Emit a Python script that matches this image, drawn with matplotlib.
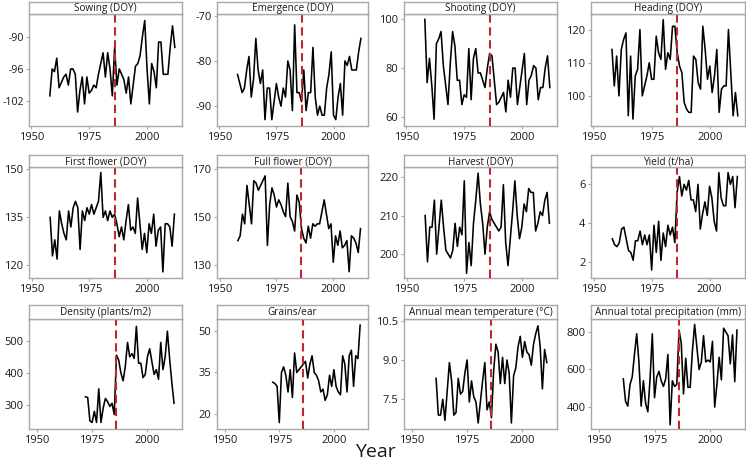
import matplotlib
matplotlib.use("Agg")
import matplotlib.pyplot as plt
import numpy as np

plt.rcParams['font.family'] = ['Open Sans', 'DejaVu Sans']
plt.rcParams['axes.unicode_minus'] = False

# ---------------- data ----------------
years_main = list(range(1958, 2013))      # 55 years
years_comp = list(range(1972, 2013))      # 41 years (density, grains)
years_temp = list(range(1961, 2012))      # 51 years
years_prec = list(range(1961, 2013))      # 52 years

sowing = [-101, -96, -96.5, -94, -99.5, -98.5, -97.5, -97, -99, -96, -96, -97,
          -104, -100, -97.5, -102.5, -97.5, -100.5, -100, -99, -99.5, -97,
          -95, -93, -97.5, -93, -96, -101, -92, -99, -96, -97,
          -98, -100.5, -97.5, -102.5, -99, -95.5, -95, -93.5, -90, -87,
          -96, -102.5, -95, -96.5, -99.5, -91, -91, -97, -97, -97,
          -92, -88, -92]

emergence = [-83, -85, -87, -86, -82, -79, -88, -84, -75, -82, -85, -82,
             -93, -86, -86, -93, -89, -85, -88, -90, -86, -88,
             -80, -82, -91, -72, -87, -87, -89, -82, -91, -87,
             -87, -77, -88, -92, -90, -92, -92, -86, -83, -78,
             -92, -93, -88, -85, -92, -80, -81, -79, -82, -82,
             -82, -78, -75]

shooting = [100, 74, 84, 73, 59, 90, 92, 95, 81, 73, 65, 82,
            95, 89, 75, 75, 65, 69, 68, 88, 67, 84,
            88, 78, 78, 75, 72, 80, 86, 85, 75, 65,
            66, 68, 70, 62, 75, 68, 80, 80, 65, 72,
            79, 86, 65, 75, 77, 81, 80, 67, 72, 72,
            80, 85, 72]

heading = [114, 103, 112, 100, 114, 117, 119, 94, 112, 93, 106, 108,
           120, 100, 103, 106, 110, 105, 105, 118, 113, 111,
           123, 108, 113, 111, 121, 121, 113, 109, 107, 98,
           96, 95, 95, 112, 111, 104, 102, 121, 114, 105,
           109, 101, 106, 114, 95, 102, 103, 103, 120, 107,
           94, 101, 94]

first_flower = [135, 123, 128, 122, 137, 133, 130, 128, 137, 132, 138, 140,
                138, 125, 137, 134, 138, 136, 139, 136, 138, 140,
                149, 135, 137, 134, 137, 135, 136, 133, 129, 132,
                128, 134, 139, 131, 132, 130, 141, 133, 125, 130,
                124, 133, 130, 136, 126, 131, 132, 118, 133, 133,
                132, 126, 136]

full_flower = [140, 142, 151, 147, 163, 155, 147, 165, 164, 161, 163, 165,
               167, 138, 155, 162, 159, 154, 157, 155, 152, 150,
               164, 150, 148, 144, 159, 156, 145, 141, 139, 146,
               141, 147, 146, 147, 147, 152, 157, 151, 145, 147,
               131, 142, 138, 144, 137, 138, 140, 127, 142, 141,
               139, 135, 145]

harvest = [210, 198, 207, 207, 214, 200, 207, 214, 207, 201, 200, 199,
           201, 208, 202, 207, 205, 219, 195, 203, 197, 208,
           214, 221, 213, 208, 200, 207, 211, 209, 208, 207,
           206, 207, 218, 203, 197, 204, 211, 219, 210, 204,
           207, 213, 211, 217, 216, 216, 206, 208, 211, 210,
           214, 216, 208]

yield_tha = [3.2, 2.9, 2.8, 3.0, 3.7, 3.8, 3.2, 2.6, 2.5, 2.1, 3.1, 3.1,
             3.6, 2.9, 3.4, 2.9, 3.4, 1.6, 3.9, 2.5, 4.1, 2.1,
             3.5, 2.8, 3.9, 3.4, 3.8, 3.0, 5.6, 6.4, 5.4, 6.0,
             5.7, 6.2, 5.2, 5.2, 4.6, 6.0, 3.7, 4.5, 5.1, 4.4,
             5.9, 5.3, 4.1, 3.6, 6.6, 5.3, 4.9, 4.9, 6.6, 6.0,
             6.4, 4.8, 6.4]

density = [325, 323, 250, 245, 280, 245, 350, 245, 290, 320, 310, 295, 305, 270,
           455, 440, 400, 375, 420, 495, 450, 460, 445, 545, 430, 430, 385, 395,
           450, 475, 435, 395, 410, 380, 495, 410, 450, 530, 445, 370, 305]

grains = [31.5, 31, 30, 17, 35, 37, 34, 28, 36, 26, 42, 35, 36, 37,
          38, 39, 33, 38, 41, 35, 34, 32, 28, 29, 25, 27, 34, 30,
          36, 30, 28, 27, 41, 38, 28, 41, 43, 30, 41, 40, 52]

temperature = [8.3, 6.9, 6.9, 7.5, 6.7, 7.8, 8.9, 8.2, 6.9,
               7.0, 8.3, 7.7, 7.8, 8.5, 9.0, 7.4, 8.2, 7.6, 7.4,
               6.6, 7.4, 8.2, 8.9, 7.1, 7.4, 6.8, 8.6, 9.6, 9.3,
               8.1, 9.1, 8.1, 9.0, 8.5, 6.6, 8.4, 8.7, 9.5, 9.9,
               9.1, 9.7, 9.3, 9.2, 8.8, 9.6, 10.0, 10.3, 9.5, 7.9,
               9.4, 8.9]

precipitation = [550, 430, 405, 520, 560, 680, 790, 640, 405, 540, 420, 375, 550,
                 790, 450, 560, 590, 540, 510, 550, 680, 305, 540, 510, 520,
                 810, 740, 470, 660, 505, 505, 700, 840, 720, 600, 640, 780, 640,
                 650, 640, 750, 400, 520, 665, 545, 820, 800, 780, 630, 785, 535, 810]

titles = ["Sowing (DOY)", "Emergence (DOY)", "Shooting (DOY)", "Heading (DOY)",
          "First flower (DOY)", "Full flower (DOY)", "Harvest (DOY)", "Yield (t/ha)",
          "Density (plants/m2)", "Grains/ear", "Annual mean temperature (\u00b0C)",
          "Annual total precipitation (mm)"]
series_x = [years_main] * 8 + [years_comp, years_comp, years_temp, years_prec]
series_y = [sowing, emergence, shooting, heading, first_flower, full_flower, harvest,
            yield_tha, density, grains, temperature, precipitation]
y_ticks = [[-102, -96, -90], [-90, -80, -70], [60, 80, 100], [100, 110, 120],
           [120, 135, 150], [130, 150, 170], [200, 210, 220], [2, 4, 6],
           [300, 400, 500], [20, 35, 50], [7.5, 9.0, 10.5], [400, 600, 800]]
y_ticklabels = [None] * 10 + [["7.5", "9.0", "10.5"], None]
y_lims = [(-106.6, -85.8), (-94.4, -69.6), (56.2, 102.2), (90.9, 124.7),
          (116.1, 150.7), (124.4, 170.7), (193.8, 222.6), (1.19, 6.89),
          (224.6, 568), (14.7, 54.2), (6.37, 10.56), (283, 869)]
x_ticks = [1950, 1975, 2000]
break_year = 1986

# ---------------- layout ----------------
W, H = 746, 472
fig = plt.figure(figsize=(W / 100, H / 100), dpi=100)
cols = [(29, 182), (217, 368), (404, 557), (591, 745)]
rows = [(2, 14, 126), (155, 167, 278), (305, 319, 429)]
row_xlim = [(1949, 2015.1), (1948.8, 2015.3), (1946.5, 2015.6)]

edge = '#a8a8a8'
for i in range(12):
    r, c = divmod(i, 4)
    x0, x1 = cols[c]
    top, sbot, pbot = rows[r]
    ax = fig.add_axes([x0 / W, 1 - pbot / H, (x1 - x0) / W, (pbot - sbot) / H])
    sax = fig.add_axes([x0 / W, 1 - sbot / H, (x1 - x0) / W, (sbot - top) / H])
    sax.set_xticks([]); sax.set_yticks([])
    for s in sax.spines.values():
        s.set_color(edge); s.set_linewidth(1.0)
    sax.text(0.5, 0.45, titles[i], ha='center', va='center', fontsize=7.2,
             color='#1a1a1a', transform=sax.transAxes)

    ax.plot(series_x[i], series_y[i], color='black', lw=1.15, zorder=3)
    ax.axvline(break_year, color='#c0282f', lw=1.5, ls=(0, (4, 2.2)), zorder=4)
    ax.set_xlim(*row_xlim[r])
    ax.set_ylim(*y_lims[i])
    ax.set_xticks(x_ticks)
    ax.set_yticks(y_ticks[i])
    if y_ticklabels[i] is not None:
        ax.set_yticklabels(y_ticklabels[i])
    for s in ax.spines.values():
        s.set_color(edge); s.set_linewidth(1.0)
    ax.tick_params(axis='both', direction='out', length=2.5, width=0.8, color=edge,
                   labelsize=8, labelcolor='#1a1a1a', pad=1.5)
    if i == 0:
        ax.tick_params(axis='y', labelsize=7.6, pad=1)

fig.text(375 / W, 1 - 452 / H, "Year", ha='center', va='center', fontsize=14,
         color='#1a1a1a')

fig.savefig("out.png", dpi=100)
